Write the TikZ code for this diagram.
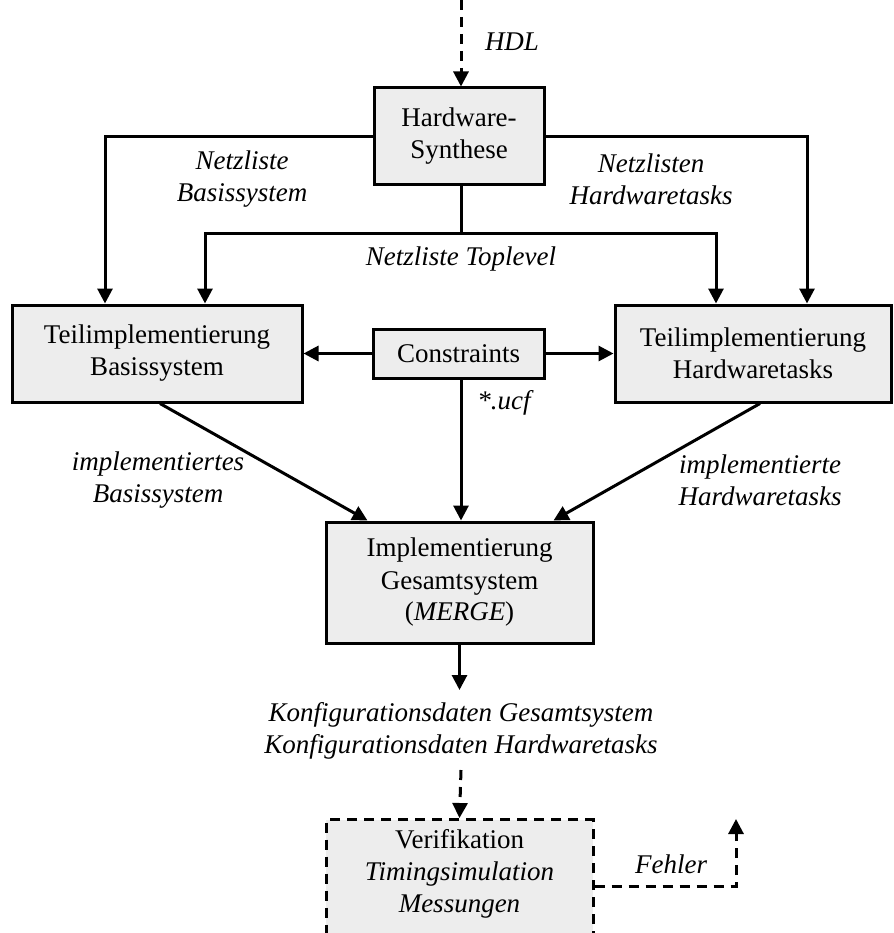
\documentclass[tikz,border=0pt]{standalone}
\usepackage{fontspec}
\setmainfont{Liberation Serif}
\usetikzlibrary{arrows.meta}
\begin{document}
\begin{tikzpicture}[x=1pt,y=1pt,
  txt/.style={font=\fontsize{27}{32}\selectfont},
  block/.style={draw, line width=3pt, fill=black!7, align=center, inner sep=0pt,
                txt},
  lbl/.style={align=center, inner sep=0pt, font=\fontsize{27}{32}\selectfont\itshape},
  arr/.style={line width=3pt, -{Triangle[length=15pt,width=15pt]}},
  ln/.style={line width=3pt},
  dsh/.style={dash pattern=on 10pt off 7pt}]
\clip (0,0) rectangle (893,-933);
\fill[white] (0,0) rectangle (893,-933);

% processing blocks
\node[block, minimum width=170, minimum height=97] (hw) at (459,-136.5) {Hardware-\\Synthese};
\node[block, minimum width=290, minimum height=97] (tb) at (157,-353.5) {Teilimplementierung\\Basissystem};
\node[block, minimum width=276, minimum height=97] (th) at (753,-353.5) {Teilimplementierung\\Hardwaretasks};
\node[block, minimum width=171, minimum height=49] (con) at (458.5,-353.5) {Constraints};
\node[block, minimum width=267, minimum height=121] (impl) at (459.5,-582.5) {Implementierung\\Gesamtsystem\\(\textit{MERGE})};
\node[block, dsh, minimum width=267, minimum height=160, anchor=north] (ver) at (459.5,-818) {};
\node[align=center, inner sep=0pt, txt, anchor=north] (vertxt) at (459.5,-829)
  {Verifikation\\\textit{Timingsimulation}\\\textit{Messungen}};

% free ends
\coordinate (hdl) at (461,0);
\coordinate (bus) at (461,-233);
\coordinate (out) at (459.5,-690);
\coordinate (err) at (736,-819);

% flow labels
\node[lbl] (lhdl) at (512,-42) {HDL};
\node[lbl] (lnb) at (242,-179) {Netzliste\\Basissystem};
\node[lbl] (lnh) at (651,-179) {Netzlisten\\Hardwaretasks};
\node[lbl] (lnt) at (461,-259) {Netzliste Toplevel};
\node[lbl] (lucf) at (504,-403) {*.ucf};
\node[lbl] (lib) at (158,-480) {implementiertes\\Basissystem};
\node[lbl] (lih) at (760,-480) {implementierte\\Hardwaretasks};
\node[lbl] (lkon) at (461,-731) {Konfigurationsdaten Gesamtsystem\\Konfigurationsdaten Hardwaretasks};
\node[lbl] (lfe) at (671,-864) {Fehler};

% connectors
\draw[arr, dsh] (hdl) -- ([xshift=2]hw.north);
\draw[arr] (hw.west) -| ([xshift=-52]tb.north);
\draw[arr] (hw.east) -| ([xshift=54]th.north);
\draw[ln] ([xshift=2]hw.south) -- (bus);
\draw[arr] (bus) -| ([xshift=48]tb.north);
\draw[arr] (bus) -| ([xshift=-37]th.north);
\draw[arr] (con.west) -- (tb.east);
\draw[arr] (con.east) -- (th.west);
\draw[arr] ([xshift=2.5]con.south) -- ([xshift=1.5]impl.north);
\draw[arr] ([xshift=3]tb.south) -- ([xshift=-92]impl.north);
\draw[arr] ([xshift=7]th.south) -- ([xshift=94]impl.north);
\draw[arr] (impl.south) -- (out);
\draw[arr, dsh] (lkon.south |- 0,-770) -- (ver.north);
\draw[arr, dsh] ([yshift=13]ver.east) -| (err);
\end{tikzpicture}
\end{document}
